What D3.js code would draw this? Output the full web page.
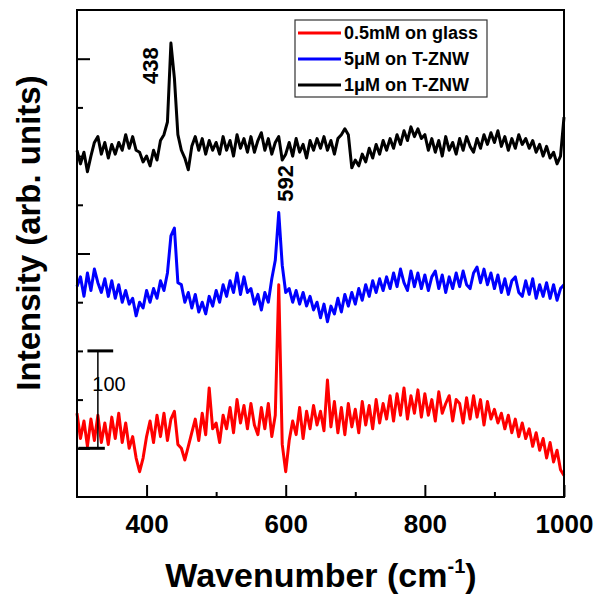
<!DOCTYPE html>
<html>
<head>
<meta charset="utf-8">
<script src="https://d3js.org/d3.v7.min.js"></script>
<style>
body { margin: 0; background: #fff; }
text { font-family: "Liberation Sans", Arial, sans-serif; }
</style>
</head>
<body>
<div id="chart"></div>
<script>
var width = 599,
    height = 600;

// wavenumber grid, cm-1
var wavenumber = d3.range(300, 1001, 5);

// intensities (arb. units, offset stacked)
var black_1uM = [
    356, 342, 354, 334, 350, 364, 370, 352, 364, 348,
    362, 352, 364, 356, 372, 358, 370, 356, 354, 344,
    350, 340, 356, 346, 366, 372, 385, 466, 430, 372,
    356, 348, 336, 360, 370, 356, 368, 352, 366, 356,
    364, 352, 370, 356, 366, 350, 372, 358, 368, 354,
    370, 354, 366, 374, 356, 368, 352, 364, 370, 346,
    352, 364, 350, 368, 354, 362, 348, 366, 356, 368,
    358, 370, 356, 366, 352, 368, 372, 378, 372, 338,
    346, 340, 352, 344, 358, 348, 362, 352, 366, 356,
    368, 358, 372, 362, 376, 366, 380, 370, 378, 368,
    372, 356, 368, 354, 366, 350, 370, 356, 364, 352,
    368, 356, 370, 360, 354, 368, 358, 372, 362, 374,
    364, 376, 360, 370, 356, 368, 358, 372, 362, 368,
    358, 366, 354, 362, 350, 360, 348, 354, 342, 350,
    390];

var blue_5uM = [
    216, 226, 206, 230, 212, 234, 220, 210, 224, 206,
    222, 204, 218, 200, 212, 198, 204, 186, 200, 194,
    212, 200, 214, 204, 222, 212, 230, 268, 276, 220,
    218, 200, 210, 194, 208, 190, 200, 188, 206, 196,
    212, 200, 218, 206, 222, 210, 230, 208, 226, 210,
    214, 198, 208, 192, 210, 200, 224, 243, 292, 238,
    210, 214, 200, 212, 198, 210, 196, 206, 192, 200,
    184, 198, 180, 196, 188, 204, 190, 208, 196, 210,
    198, 214, 202, 218, 206, 222, 210, 224, 212, 226,
    214, 230, 216, 234, 220, 212, 232, 216, 230, 214,
    228, 212, 226, 232, 214, 228, 210, 226, 214, 230,
    216, 232, 218, 214, 230, 236, 220, 234, 218, 230,
    214, 228, 210, 224, 208, 222, 226, 210, 206, 222,
    208, 224, 204, 218, 206, 220, 204, 218, 202, 214,
    218];

var red_05mM = [
    86, 60, 78, 52, 80, 58, 84, 56, 76, 54,
    82, 60, 86, 56, 76, 50, 62, 40, 26, 40,
    62, 78, 56, 84, 62, 86, 58, 80, 88, 54,
    50, 38, 52, 66, 80, 58, 86, 64, 112, 70,
    76, 56, 84, 70, 92, 66, 100, 76, 94, 70,
    96, 74, 64, 92, 70, 96, 62, 84, 218, 54,
    26, 58, 78, 64, 92, 60, 88, 70, 94, 74,
    88, 68, 120, 72, 98, 66, 92, 64, 96, 72,
    90, 66, 98, 74, 94, 70, 100, 76, 96, 80,
    104, 78, 106, 84, 112, 80, 104, 86, 110, 82,
    106, 84, 100, 78, 108, 86, 96, 104, 78, 100,
    96, 76, 102, 80, 104, 82, 100, 74, 98, 80,
    90, 76, 86, 70, 84, 66, 80, 62, 76, 60,
    70, 52, 66, 48, 60, 40, 56, 36, 48, 28,
    22];

var seriesNames = ["0.5mM on glass", "5\u03BCM on T-ZNW", "1\u03BCM on T-ZNW"];
var seriesColors = ["#ff0000", "#0000ff", "#000000"];
var seriesValues = [red_05mM, blue_5uM, black_1uM];

var xMajor = [400, 600, 800, 1000],
    xMinor = [500, 700, 900];
var yMajor = [50, 250, 450],
    yMinor = [100, 150, 200, 300, 350, 400];

// peak labels: wavenumber, height
var peakLabels = [{ text: "438", wn: 438, v: 443 },
                  { text: "592", wn: 592, v: 322 }];
var peakDx = [-15, 13];
// scale bar: 100 units
var scaleBar = { wn: 330, from: 50, to: 150, label: "100" };

var svg = d3.select("#chart").append("svg")
    .attr("width", width)
    .attr("height", height);

var x = d3.scaleLinear().domain([300, 1000]).range([77, 564]);
var y = d3.scaleLinear().domain([0, 500]).range([497, 10]);

////////////////////////////// axes, ticks inward
svg.append("g")
    .attr("transform", "translate(0,497)")
    .call(d3.axisBottom(x).tickValues(xMinor).tickSize(-5).tickFormat(""))
    .call(function (g) { g.select(".domain").remove(); });
var xAx = svg.append("g")
    .attr("transform", "translate(0,497)")
    .call(d3.axisBottom(x).tickValues(xMajor).tickSize(-12).tickPadding(18).tickFormat(d3.format("d")))
    .call(function (g) { g.select(".domain").remove(); });
xAx.selectAll("text")
    .attr("font-size", 26)
    .attr("font-weight", "bold")
    .attr("fill", "#000");

svg.append("g")
    .attr("transform", "translate(77,0)")
    .call(d3.axisLeft(y).tickValues(yMinor).tickSize(-6).tickFormat(""))
    .call(function (g) { g.select(".domain").remove(); });
svg.append("g")
    .attr("transform", "translate(77,0)")
    .call(d3.axisLeft(y).tickValues(yMajor).tickSize(-13).tickFormat(""))
    .call(function (g) { g.select(".domain").remove(); });
svg.selectAll(".tick line")
    .attr("stroke", "#000")
    .attr("stroke-width", 2);

////////////////////////////// spectra
var line = d3.line()
    .x(function (d, i) { return x(wavenumber[i]); })
    .y(function (d) { return y(d); });

svg.selectAll("path.spec")
    .data(seriesValues)
    .enter().append("path")
    .attr("class", "spec")
    .attr("d", line)
    .attr("fill", "none")
    .attr("stroke", function (d, i) { return seriesColors[i]; })
    .attr("stroke-width", 3)
    .attr("stroke-linejoin", "round");

// frame
svg.append("rect")
    .attr("x", x(300))
    .attr("y", y(500))
    .attr("width", x(1000) - x(300))
    .attr("height", y(0) - y(500))
    .attr("fill", "none")
    .attr("stroke", "#000")
    .attr("stroke-width", 2);

////////////////////////////// scale bar
svg.append("line")
    .attr("x1", x(scaleBar.wn)).attr("x2", x(scaleBar.wn))
    .attr("y1", y(scaleBar.from)).attr("y2", y(scaleBar.to))
    .attr("stroke", "#000")
    .attr("stroke-width", 1.5);
svg.append("line")
    .attr("x1", x(scaleBar.wn - 15)).attr("x2", x(scaleBar.wn + 22))
    .attr("y1", y(scaleBar.to)).attr("y2", y(scaleBar.to))
    .attr("stroke", "#000")
    .attr("stroke-width", 3);
svg.append("line")
    .attr("x1", x(scaleBar.wn - 28)).attr("x2", x(scaleBar.wn + 10))
    .attr("y1", y(scaleBar.from)).attr("y2", y(scaleBar.from))
    .attr("stroke", "#000")
    .attr("stroke-width", 3);
svg.append("text")
    .attr("x", x(scaleBar.wn - 8))
    .attr("y", y(scaleBar.to) + 40)
    .attr("font-size", 20)
    .attr("fill", "#000")
    .text(scaleBar.label);

////////////////////////////// peak labels
svg.selectAll("text.peak")
    .data(peakLabels)
    .enter().append("text")
    .attr("class", "peak")
    .attr("transform", function (d, i) {
        return "translate(" + (x(d.wn) + peakDx[i]) + "," + y(d.v) + ") rotate(-90)";
    })
    .attr("text-anchor", "middle")
    .attr("font-size", 22)
    .attr("font-weight", "bold")
    .text(function (d) { return d.text; });

////////////////////////////// legend
var legend = svg.append("g");
legend.append("rect")
    .attr("x", 295).attr("y", 20)
    .attr("width", 192).attr("height", 77)
    .attr("fill", "#fff")
    .attr("stroke", "#333")
    .attr("stroke-width", 1.2);
var rows = legend.selectAll("g.row")
    .data(seriesNames)
    .enter().append("g")
    .attr("class", "row")
    .attr("transform", function (d, i) { return "translate(0," + (33 + i * 26) + ")"; });
rows.append("line")
    .attr("x1", 298).attr("x2", 341)
    .attr("stroke", function (d, i) { return seriesColors[i]; })
    .attr("stroke-width", 3);
rows.append("text")
    .attr("x", 344)
    .attr("dy", "0.35em")
    .attr("font-size", 18)
    .attr("font-weight", "bold")
    .text(function (d) { return d; });

////////////////////////////// axis titles
var xt = svg.append("text")
    .attr("x", 321)
    .attr("y", 587)
    .attr("text-anchor", "middle")
    .attr("font-size", 34)
    .attr("font-weight", "bold");
xt.append("tspan").text("Wavenumber (cm");
xt.append("tspan").attr("font-size", 20).attr("dy", -14).text("-1");
xt.append("tspan").attr("dy", 14).text(")");

svg.append("text")
    .attr("transform", "translate(40,233) rotate(-90)")
    .attr("text-anchor", "middle")
    .attr("font-size", 33)
    .attr("font-weight", "bold")
    .text("Intensity (arb. units)");
</script>
</body>
</html>
